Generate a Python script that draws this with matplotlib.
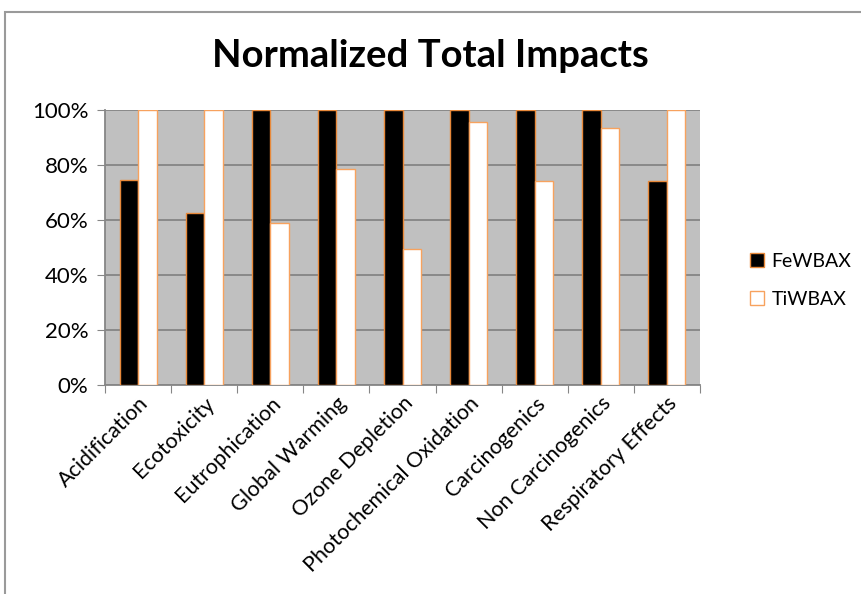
import numpy as np
import matplotlib.pyplot as plt
from matplotlib.patches import Rectangle
from matplotlib.ticker import PercentFormatter

plt.rcParams['font.family'] = ['Lato', 'DejaVu Sans']

categories = ["Acidification", "Ecotoxicity", "Eutrophication", "Global Warming",
              "Ozone Depletion", "Photochemical Oxidation", "Carcinogenics",
              "Non Carcinogenics", "Respiratory Effects"]
fewbax = [74.5, 62.5, 100, 100, 100, 100, 100, 100, 74]
tiwbax = [100, 100, 59, 78.5, 49.3, 95.5, 74, 93.5, 100]

fig = plt.figure(figsize=(8.61, 5.94), dpi=100)
ax = fig.add_axes([0.122, 0.352, 0.691, 0.463])

x = np.arange(len(categories))
w = 0.28
ax.bar(x - w / 2, fewbax, w, color="black", edgecolor="#E8893A", linewidth=1, label="FeWBAX", zorder=3)
ax.bar(x + w / 2, tiwbax, w, color="white", edgecolor="#F7A25E", linewidth=1, label="TiWBAX", zorder=3)

ax.set_facecolor("#C0C0C0")
ax.set_xlim(-0.5, len(categories) - 0.5)
ax.set_ylim(0, 100)
ax.set_yticks(np.arange(0, 101, 20))
ax.yaxis.set_major_formatter(PercentFormatter(decimals=0))
ax.grid(axis="y", color="#858585", linewidth=1.3, zorder=0)

ax.set_xticks(np.arange(-0.5, len(categories), 1))
ax.set_xticklabels([])
ax.set_xticks(x, minor=True)
ax.set_xticklabels(categories, minor=True, rotation=45, ha="right",
                   rotation_mode="anchor", fontsize=15.5)
ax.tick_params(axis="x", which="minor", length=0, pad=6)
ax.tick_params(axis="x", which="major", length=6, color="#868686")
ax.tick_params(axis="y", length=6, color="#868686", labelsize=16, pad=6)

for side in ["top", "right"]:
    ax.spines[side].set_visible(False)
for side in ["left", "bottom"]:
    ax.spines[side].set_color("#868686")
    ax.spines[side].set_linewidth(1.3)

fig.text(0.5, 0.905, "Normalized Total Impacts", ha="center", va="center",
         fontsize=27.5, fontweight="bold")

ax.legend(loc="center left", bbox_to_anchor=(1.055, 0.38), frameon=False,
          fontsize=14, handlelength=0.7, handleheight=0.7, handletextpad=0.4,
          labelspacing=1.1)

# outer chart border
fig.patches.append(Rectangle((5 / 861, -0.1), 1.2, (594 - 12) / 594 + 0.1,
                             transform=fig.transFigure, fill=False,
                             edgecolor="#9a9a9a", linewidth=1.5))

plt.savefig("out.png", dpi=100)
